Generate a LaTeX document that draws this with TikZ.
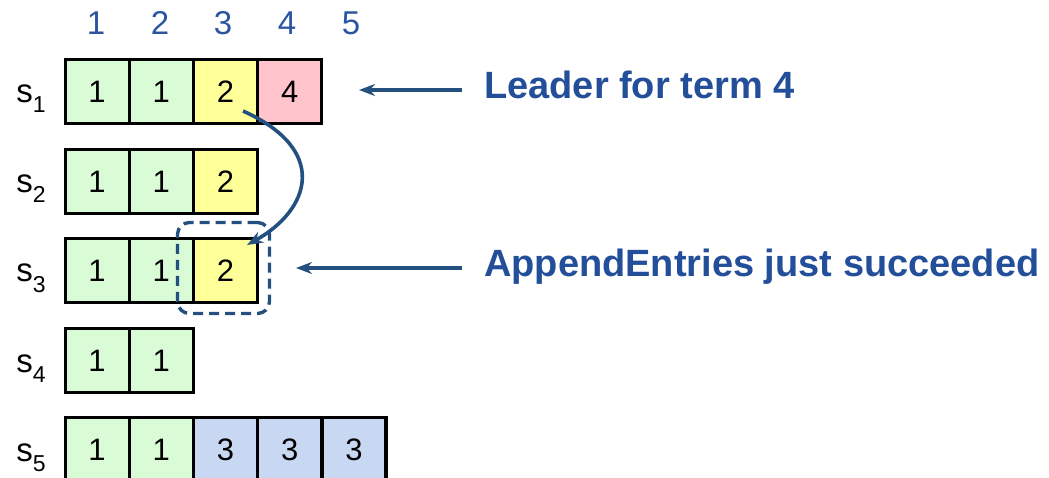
\documentclass[tikz,border=0pt]{standalone}
\usepackage{fontspec}
\setmainfont{Liberation Sans}
\usetikzlibrary{arrows.meta}
\definecolor{cgreen}{HTML}{D9FCD6}
\definecolor{cyellow}{HTML}{FFFF99}
\definecolor{cpink}{HTML}{FFC4CC}
\definecolor{cblue}{HTML}{C9D8F2}
\definecolor{numblue}{HTML}{2B55A0}
\definecolor{txtblue}{HTML}{234E9A}
\definecolor{arrblue}{HTML}{24507F}
\tikzset{
  cell/.style={draw=black, line width=3.2pt, minimum width=64pt, minimum height=64pt, inner sep=0pt, font=\fontsize{31}{31}\selectfont, anchor=north west},
  colnum/.style={text=numblue, font=\fontsize{33}{33}\selectfont, inner sep=0pt},
  srv/.style={font=\fontsize{33}{33}\selectfont, inner sep=0pt, anchor=base},
  note/.style={text=txtblue, font=\fontsize{38}{38}\selectfont\bfseries, inner sep=0pt, anchor=west},
  pointer/.style={draw=arrblue, line width=3.2pt, -{Stealth[length=16pt,width=12pt]}},
}
\newcommand{\srvlabel}[1]{s\raisebox{-10pt}{\fontsize{23}{23}\selectfont #1}}
\begin{document}
\begin{tikzpicture}[x=1pt,y=-1pt]
\useasboundingbox (0,0) rectangle (1049,478);
% column numbers
\foreach \i/\x in {1/96,2/160,3/223,4/287,5/351} {
  \node[colnum] (c\i) at (\x,23) {\i};
}
% row labels
\node[srv] (s1) at (31,103) {\srvlabel{1}};
\node[srv] (s2) at (31,193) {\srvlabel{2}};
\node[srv] (s3) at (31,282) {\srvlabel{3}};
\node[srv] (s4) at (31,372) {\srvlabel{4}};
\node[srv] (s5) at (31,461) {\srvlabel{5}};
% row 1
\node[cell, fill=cgreen]  (a11) at (63.5,58) {1};
\node[cell, fill=cgreen]  (a12) at (127.7,58) {1};
\node[cell, fill=cyellow] (a13) at (191.9,58) {2};
\node[cell, fill=cpink]   (a14) at (256.1,58) {4};
% row 2
\node[cell, fill=cgreen]  (a21) at (63.5,148) {1};
\node[cell, fill=cgreen]  (a22) at (127.7,148) {1};
\node[cell, fill=cyellow] (a23) at (191.9,148) {2};
% row 3
\node[cell, fill=cgreen]  (a31) at (63.5,237) {1};
\node[cell, fill=cgreen]  (a32) at (127.7,237) {1};
\node[cell, fill=cyellow] (a33) at (191.9,237) {2};
% row 4
\node[cell, fill=cgreen]  (a41) at (63.5,327) {1};
\node[cell, fill=cgreen]  (a42) at (127.7,327) {1};
% row 5
\node[cell, fill=cgreen]  (a51) at (63.5,416) {1};
\node[cell, fill=cgreen]  (a52) at (127.7,416) {1};
\node[cell, fill=cblue]   (a53) at (191.9,416) {3};
\node[cell, fill=cblue]   (a54) at (256.1,416) {3};
\node[cell, fill=cblue]   (a55) at (320.3,416) {3};
% dashed highlight
\node[draw=arrblue, line width=3.4pt, dash pattern=on 10pt off 6pt, rounded corners=12pt,
      minimum width=92pt, minimum height=91pt, inner sep=0pt] (hl) at (223.5,268) {};
% notes
\node[note] (n1) at (484,85) {Leader for term 4};
\node[note] (n2) at (484,267) {AppendEntries just succeeded};
\coordinate (p1) at (462,90);
\coordinate (q1) at (359,90);
\coordinate (p2) at (462,268);
\coordinate (q2) at (296,268);
\draw[pointer] (p1) -- (q1);
\draw[pointer] (p2) -- (q2);
% curved replication arrow
\coordinate (r0) at (243,111);
\coordinate (r1) at (247,245);
\draw[pointer, line width=3.6pt] (r0) .. controls (330,150) and (310,210) .. (r1);
\end{tikzpicture}
\end{document}
